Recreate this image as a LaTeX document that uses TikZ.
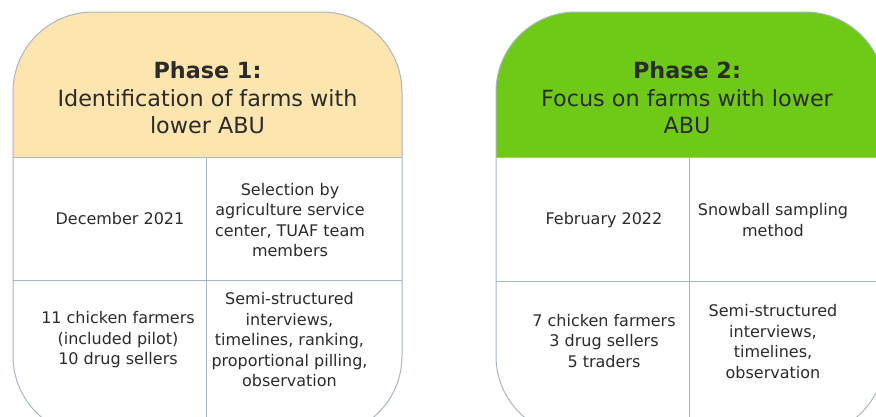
\documentclass[tikz,border=0pt]{standalone}
\usepackage{fontspec}
\setmainfont{DejaVu Sans}
\definecolor{peach}{HTML}{FCE5AE}
\definecolor{leaf}{HTML}{6ECA16}
\definecolor{edge}{HTML}{A8B6C4}
\definecolor{ink}{HTML}{2B2B2B}

\begin{document}
\begin{tikzpicture}[x=1pt, y=-1pt,
    box/.style={draw=edge, line width=1pt, rounded corners=80pt},
    rule/.style={draw=edge, line width=1pt},
    head/.style={align=center, text=ink, font=\fontsize{22.3}{27.5}\selectfont},
    cell/.style={align=center, text=ink, font=\fontsize{16}{20.5}\selectfont}]
    \clip (0,0) rectangle (876,416);

    % phase 1
    \begin{scope}
        \clip[rounded corners=80pt] (13,12) rectangle (402,436);
        \fill[peach] (13,12) rectangle (402,157);
    \end{scope}
    \draw[box] (13,12) rectangle (402,436);
    \draw[rule] (13,157) -- (402,157);
    \draw[rule] (13,280) -- (402,280);
    \draw[rule] (206,157) -- (206,436);

    \node[head] (T1) at (207.5,98) {\textbf{Phase 1:}\\Identification of farms with\\lower ABU};
    \node[cell] (D1) at (120,219) {December 2021};
    \node[cell] (S1) at (290,220) {Selection by\\agriculture service\\center, TUAF team\\members};
    \node[cell] (P1) at (118,340) {11 chicken farmers\\(included pilot)\\10 drug sellers};
    \node[cell] (M1) at (289.5,340) {Semi-structured\\interviews,\\timelines, ranking,\\proportional pilling,\\observation};

    % phase 2
    \begin{scope}
        \clip[rounded corners=80pt] (496,12) rectangle (885,436);
        \fill[leaf] (496,12) rectangle (885,157);
    \end{scope}
    \draw[box] (496,12) rectangle (885,436);
    \draw[rule] (496,157) -- (885,157);
    \draw[rule] (496,281) -- (885,281);
    \draw[rule] (689,157) -- (689,436);

    \node[head] (T2) at (687,98) {\textbf{Phase 2:}\\Focus on farms with lower\\ABU};
    \node[cell] (D2) at (604,220) {February 2022};
    \node[cell] (S2) at (773,220) {Snowball sampling\\method};
    \node[cell] (P2) at (604,341) {7 chicken farmers\\3 drug sellers\\5 traders};
    \node[cell] (M2) at (773,341.5) {Semi-structured\\interviews,\\timelines,\\observation};
\end{tikzpicture}
\end{document}
